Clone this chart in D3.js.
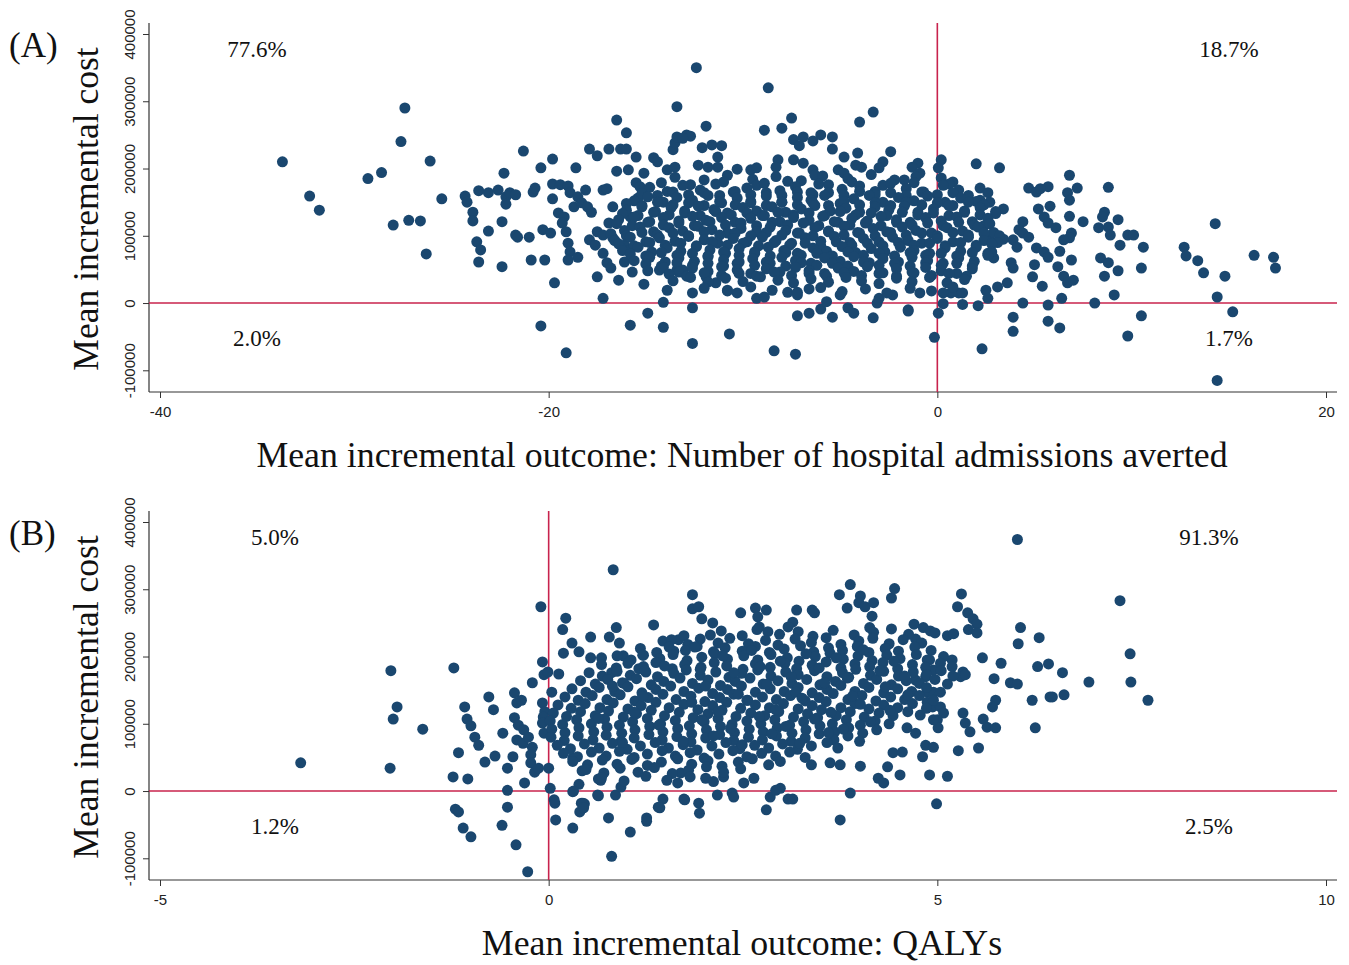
<!DOCTYPE html>
<html>
<head>
<meta charset="utf-8">
<script src="https://cdn.jsdelivr.net/npm/d3@7"></script>
<style>
  body { margin: 0; background: #fff; }
  text { font-family: "Liberation Serif", "Times New Roman", serif; }
  .tick text { font-family: "Liberation Sans", Arial, sans-serif; font-size: 15px; fill: #222; }
  .tick line { stroke: #333; }
</style>
</head>
<body>
<svg id="chart" width="1349" height="965"></svg>
<script>
// ticks
const ticksA = [-40, -20, 0, 20];
const ticksB = [-5, 0, 5, 10];
const costTicks = [-100000, 0, 100000, 200000, 300000, 400000];

// quadrant shares
const quadA = ["77.6%", "18.7%", "2.0%", "1.7%"];
const quadB = ["5.0%", "91.3%", "1.2%", "2.5%"];

// panel A: [hospital admissions averted, incremental cost in thousands]
const pointsA = [
  [-33.7,210],[-32.3,159],[-31.8,138],[-29.3,185],[-28.6,194],[-27.4,290],[-27.6,240],[-26.1,211],[-28.0,116],[-27.2,123],[-26.6,122],[-26.3,73],[-25.5,155],
  [-24.3,159],[-24.2,150],[-23.9,135],[-23.9,122],[-23.7,91],[-23.5,79],[-23.6,61],[-23.6,167],[-23.1,164],[-22.6,168],[-22.2,158],[-22.0,164],[-21.7,161],[-22.2,147],[-22.3,193],[-23.1,107],[-22.4,121],[-22.4,54],[-21.3,226],[-21.7,101],[-21.6,98],[-21.0,98],[-20.9,64],[-20.8,165],[-20.7,171],[-20.4,201],[-20.3,109],[-19.9,104],[-20.2,64],[-19.8,214],[-19.8,177],[-19.4,176],[-19.0,174],[-19.8,155],[-19.7,30],[-19.5,134],[-19.2,128],[-19.3,119],[-19.1,106],[-19.0,89],[-18.9,76],[-18.5,68],[-19.0,64],[-18.9,164],[-18.5,158],[-18.7,143],[-18.6,201],[-18.3,149],[-18.0,143],[-17.8,135],[-18.1,168],[-17.9,229],[-17.5,219],[-17.9,94],[-17.6,86],[-17.5,106],[-17.2,101],[-16.7,97],[-17.5,39],[-17.2,168],[-17.0,170],[-16.9,229],[-16.9,119],[-17.2,74],[-17.0,60],[-16.8,52],[-17.2,7],[-16.7,143],[-16.5,196],[-16.5,272],[-16.4,34],[-16.3,229],[-16.0,229],[-16.0,253],[-15.9,198],[-16.1,86],[-15.8,79],[-16.1,61],[-15.7,46],[-15.8,-33],[-15.5,217],[-15.5,179],[-15.3,173],[-15.4,156],[-15.8,128],[-15.1,193],[-15.1,28],[-14.9,-15],[-14.6,216],[-14.4,210],[-14.3,49],[-13.9,19],[-14.1,1],[-14.1,-36],[-13.9,198],[-13.5,202],[-13.6,228],[-13.5,238],[-13.4,247],[-12.9,250],[-13.4,292],[-13.4,49],[-13.1,49],[-19.1,-74],[-20.4,-34],
  [-12.4,350],[-8.7,320],[-3.3,284],[-4.0,269],[-7.5,275],[-8.0,260],[-8.9,257],[-11.9,263],[-12.7,248],[-13.1,245],[-12.1,231],[-11.6,235],[-11.1,234],[-11.3,217],[-11.3,202],[-12.3,205],[-11.8,202],[-10.3,199],[-9.6,198],[-9.3,201],[-7.4,243],[-6.9,247],[-6.4,241],[-6.0,250],[-5.4,247],[-7.1,234],[-7.4,213],[-6.9,208],[-8.2,213],[-8.3,202],[-5.4,229],[-4.8,217],[-4.1,223],[-2.4,225],[-2.8,210],[-3.0,201],[-1.0,208],[-1.3,202],[-0.9,193],[0.2,213],[0.05,201],[-4.2,205],[-3.9,202],[-5.1,198],[-4.8,193],[-6.4,198],[-6.3,190],
  [-12.6,-60],[-10.7,-46],[-8.4,-71],[-7.3,-76],[-12.6,-7],[-7.2,-19],[-6.6,-15],[-6.0,-9],[-5.4,-21],[-4.6,-7],[-4.3,-15],[-3.3,-22],[-1.5,-12],[-0.15,-51],
  [-9.3,7],[-8.9,9],[-7.7,16],[-7.2,12],[-6.6,21],[-5.7,2],[-5.0,12],[-3.0,7],[-2.3,12],[-0.9,15],[-3.1,0],[-12.6,15],[-11.9,39],[-11.4,30],[-10.8,19],[-10.3,15],[-13.1,46],
  [2.0,207],[3.2,201],[-1.7,183],[0.8,180],[2.2,171],[2.6,164],[2.2,153],[2.7,150],[4.7,171],[5.1,165],[5.7,173],[5.3,170],[6.8,190],[7.2,171],[6.7,164],[6.8,153],[8.8,172],[5.8,144],[5.2,140],[5.5,128],[5.7,119],[6.1,112],[6.8,129],[7.5,121],[3.4,140],[8.6,135],[8.5,128],[9.3,124],[8.3,112],[8.8,113],[8.9,101],[9.8,101],[10.1,101],[9.4,86],[10.6,83],[14.3,118],[12.7,83],[12.8,70],[13.4,63],[13.7,45],[14.8,40],[16.3,71],[17.3,68],[17.4,52],[14.4,9],[15.2,-13],[14.4,-115],[9.8,-49],[10.5,-19],[10.5,52],[9.3,48],[9.1,12],[8.1,0],[8.4,67],[8.8,60],[8.6,40],[6.9,64],[6.4,7],[6.3,-37],[5.7,-27],[5.7,-3],[4.4,0],[3.9,-21],[3.9,-42],[2.3,-68],[2.1,-4],[1.3,-2],[1.1,15],[1.3,15],[0.7,15],[0.3,15],[0.3,-1],[0.05,-15],[-1.5,-10],[2.5,19],[2.6,7],[3.1,24],[3.6,30],[4.9,39],[5.4,25],[5.0,57],[5.1,82],[5.5,76],[5.7,68],[6.2,54],[6.5,40],[6.7,30],[7.0,34],[6.3,77],[6.9,104],[6.8,97],[6.5,94],[4.4,121],[4.2,109],[3.9,94],[4.1,83],[4.4,104],[4.7,98],[3.8,60],[3.9,52],[3.4,95],[2.4,115],[2.5,101],[2.7,94],[2.6,74],[2.9,67],
  [-13.5,187],[-12.0,183],[-10.8,190],[-9.5,184],[-8.3,188],[-7.0,182],[-5.9,189],[-4.6,185],[-3.4,191],[-2.2,183],[-1.1,188],[0.2,186],
  [-14.2,179],[-12.7,176],[-11.0,180],[-9.3,175],[-7.7,181],[-6.1,177],[-4.4,180],[-2.8,175],[-1.2,179],[0.6,177],
  [-14.8,172],[-13.9,166],[-13.1,175],[-12.2,168],[-11.4,177],[-10.5,165],[-9.8,171],[-8.9,178],[-8.1,167],[-7.3,173],[-6.5,164],[-5.6,176],[-4.9,169],[-4.0,174],[-3.2,166],[-2.4,178],[-1.6,170],[-0.7,165],[0.3,175],[1.1,168],
  [-15.2,163],[-14.4,160],[-13.6,165],[-12.8,161],[-12.0,164],[-11.2,160],[-10.4,166],[-9.6,161],[-8.8,164],[-8.0,160],[-7.2,165],[-6.4,161],[-5.6,164],[-4.8,160],[-4.0,166],[-3.2,161],[-2.4,164],[-1.6,160],[-0.8,165],[0.0,161],[0.8,164],[1.6,160],
  [-15.6,152],[-14.9,158],[-14.1,150],[-13.4,157],[-12.6,153],[-11.8,160],[-11.1,149],[-10.3,156],[-9.6,151],[-8.8,159],[-8.0,150],[-7.2,157],[-6.5,153],[-5.8,160],[-5.0,148],[-4.3,155],[-3.5,160],[-2.8,150],[-2.0,157],[-1.2,152],[-0.5,159],[0.4,150],[1.2,156],[2.0,151],
  [-16.0,148],[-15.2,145],[-14.4,150],[-13.6,146],[-12.8,149],[-12.0,145],[-11.2,151],[-10.4,146],[-9.6,149],[-8.8,145],[-8.0,150],[-7.2,146],[-6.4,149],[-5.6,145],[-4.8,151],[-4.0,146],[-3.2,149],[-2.4,145],[-1.6,150],[-0.8,146],[0.0,149],[0.8,145],[1.6,150],[2.4,146],
  [-16.0,138],[-15.2,143],[-14.5,136],[-13.7,142],[-13.0,137],[-12.3,144],[-11.5,139],[-10.8,134],[-10.0,142],[-9.3,137],[-8.5,143],[-7.8,135],[-7.0,140],[-6.3,145],[-5.5,137],[-4.7,141],[-4.0,135],[-3.2,143],[-2.5,138],[-1.7,144],[-1.0,135],[-0.2,140],[0.6,145],[1.4,137],[2.2,142],[3.0,136],
  [-16.2,133],[-15.4,130],[-14.6,135],[-13.8,131],[-13.0,134],[-12.2,130],[-11.4,136],[-10.6,131],[-9.8,134],[-9.0,130],[-8.2,135],[-7.4,131],[-6.6,134],[-5.8,130],[-5.0,136],[-4.2,131],[-3.4,134],[-2.6,130],[-1.8,135],[-1.0,131],[-0.2,134],[0.6,130],[1.4,135],[2.2,131],[3.0,133],
  [-16.4,124],[-15.6,128],[-14.8,121],[-14.1,127],[-13.3,122],[-12.6,129],[-11.9,123],[-11.1,127],[-10.4,120],[-9.6,126],[-8.9,130],[-8.1,121],[-7.4,127],[-6.6,123],[-5.9,129],[-5.1,120],[-4.4,126],[-3.6,122],[-2.9,129],[-2.1,124],[-1.4,120],[-0.6,127],[0.2,122],[1.0,128],[1.8,121],[2.6,126],
  [-16.5,118],[-15.7,115],[-14.9,120],[-14.1,116],[-13.3,119],[-12.5,115],[-11.7,121],[-10.9,116],[-10.1,119],[-9.3,115],[-8.5,120],[-7.7,116],[-6.9,119],[-6.1,115],[-5.3,121],[-4.5,116],[-3.7,119],[-2.9,115],[-2.1,120],[-1.3,116],[-0.5,119],[0.3,115],[1.1,120],[1.9,116],[2.7,118],
  [-16.1,108],[-15.3,113],[-14.6,106],[-13.8,112],[-13.1,107],[-12.3,114],[-11.6,109],[-10.8,104],[-10.1,111],[-9.3,106],[-8.6,113],[-7.8,108],[-7.1,104],[-6.3,112],[-5.6,107],[-4.8,114],[-4.1,105],[-3.3,111],[-2.6,106],[-1.8,113],[-1.1,108],[-0.3,104],[0.5,112],[1.3,107],[2.1,113],[2.9,105],
  [-16.8,103],[-16.0,100],[-15.2,105],[-14.4,101],[-13.6,104],[-12.8,100],[-12.0,106],[-11.2,101],[-10.4,104],[-9.6,100],[-8.8,105],[-8.0,101],[-7.2,104],[-6.4,100],[-5.6,106],[-4.8,101],[-4.0,104],[-3.2,100],[-2.4,105],[-1.6,101],[-0.8,104],[0.0,100],[0.8,105],[1.6,101],[2.4,104],[3.2,100],
  [-16.6,93],[-15.8,98],[-15.0,91],[-14.3,97],[-13.5,92],[-12.8,99],[-12.0,94],[-11.3,89],[-10.5,96],[-9.8,91],[-9.0,98],[-8.3,93],[-7.5,89],[-6.8,97],[-6.0,92],[-5.3,99],[-4.5,90],[-3.8,96],[-3.0,91],[-2.3,98],[-1.5,93],[-0.8,89],[0.0,96],[0.8,91],[1.6,98],[2.4,93],[3.1,90],
  [-16.4,88],[-15.6,85],[-14.8,90],[-14.0,86],[-13.2,89],[-12.4,85],[-11.6,91],[-10.8,86],[-10.0,89],[-9.2,85],[-8.4,90],[-7.6,86],[-6.8,89],[-6.0,85],[-5.2,91],[-4.4,86],[-3.6,89],[-2.8,85],[-2.0,90],[-1.2,86],[-0.4,89],[0.4,85],[1.2,90],[2.0,86],[2.8,88],
  [-16.2,78],[-15.4,83],[-14.7,76],[-13.9,82],[-13.2,77],[-12.4,84],[-11.7,79],[-10.9,74],[-10.2,81],[-9.4,76],[-8.7,83],[-7.9,78],[-7.2,74],[-6.4,82],[-5.7,77],[-4.9,84],[-4.2,75],[-3.4,81],[-2.7,76],[-1.9,83],[-1.2,78],[-0.4,74],[0.4,82],[1.2,77],[2.0,83],[2.8,76],
  [-15.8,73],[-15.0,70],[-14.2,75],[-13.4,71],[-12.6,74],[-11.8,70],[-11.0,76],[-10.2,71],[-9.4,74],[-8.6,70],[-7.8,75],[-7.0,71],[-6.2,74],[-5.4,70],[-4.6,76],[-3.8,71],[-3.0,74],[-2.2,70],[-1.4,75],[-0.6,71],[0.2,74],[1.0,70],[1.8,75],[2.6,71],
  [-15.6,63],[-14.8,68],[-14.0,61],[-13.3,67],[-12.5,62],[-11.8,69],[-11.0,64],[-10.3,59],[-9.5,66],[-8.8,61],[-8.0,68],[-7.3,63],[-6.5,59],[-5.8,67],[-5.0,62],[-4.3,69],[-3.5,60],[-2.8,66],[-2.0,61],[-1.3,68],[-0.5,63],[0.3,59],[1.1,67],[1.9,62],
  [-15.0,58],[-14.2,55],[-13.4,60],[-12.6,56],[-11.8,59],[-11.0,55],[-10.2,61],[-9.4,56],[-8.6,59],[-7.8,55],[-7.0,60],[-6.2,56],[-5.4,59],[-4.6,55],[-3.8,61],[-3.0,56],[-2.2,59],[-1.4,55],[-0.6,60],[0.2,56],[1.0,59],[1.8,55],
  [-14.9,48],[-14.1,53],[-13.3,46],[-12.6,52],[-11.8,47],[-11.1,54],[-10.3,49],[-9.6,44],[-8.8,51],[-8.1,46],[-7.3,53],[-6.6,48],[-5.8,44],[-5.1,52],[-4.3,47],[-3.6,54],[-2.8,45],[-2.1,51],[-1.3,46],[-0.6,53],[0.2,48],[1.0,44],[1.8,51],
  [-13.8,43],[-12.9,40],[-12.0,45],[-11.1,41],[-10.2,44],[-9.3,40],[-8.4,46],[-7.5,41],[-6.6,44],[-5.7,40],[-4.8,45],[-3.9,41],[-3.0,44],[-2.1,40],[-1.2,45],[-0.3,41],[0.6,44],[1.5,40],
  [-13.6,33],[-12.7,38],[-11.8,31],[-10.9,37],[-10.0,32],[-9.1,39],[-8.2,34],[-7.4,30],[-6.5,36],[-5.6,31],[-4.7,38],[-3.9,33],[-3.0,29],[-2.1,37],[-1.3,32],[-0.4,38],[0.5,30],[1.4,35],
  [-12.0,22],[-10.8,18],[-9.6,24],[-8.5,19],[-7.2,16],[-6.0,23],[-4.9,17],[-3.7,21],[-2.6,15],[-1.4,22],[-0.3,18],[0.8,24]
];

// panel B: [QALYs gained, incremental cost in thousands]
const pointsB = [
  [-3.19,42],[-2.03,179],[-1.95,125],[-2.0,107],[-2.04,34],[-1.62,92],[-1.22,183],[-1.23,21],[-1.04,18],[-1.16,57],[-1.08,125],[-1.05,107],[-1.0,97],[-0.95,80],[-0.9,68],[-0.77,140],[-0.71,121],[-1.2,-27],[-1.16,-31],[-1.1,-55],[-1.0,-68],[-0.6,-51],[-0.53,-24],[-0.53,1],[-0.42,-80],[-0.27,-120],[-0.82,43],[-0.69,52],[-0.59,86],[-0.53,34],[-0.46,51],[-0.44,146],[-0.41,131],[-0.35,135],
  [-0.44,109],[-0.39,98],[-0.32,91],[-0.41,76],[-0.33,71],[-0.26,80],[-0.21,65],[-0.23,54],[-0.31,12],[-0.23,42],[-0.18,28],[-0.13,34],[-0.21,161],[-0.1,274],[-0.08,192],[-0.06,173],[-0.01,177],[-0.08,131],[-0.05,118],[-0.07,110],[-0.08,101],[-0.06,86],[0,34],[0.02,4],[0.07,-13],[0.08,-18],[0.09,-43],[0.31,-55],[0.04,147],[0.13,174],[0.22,257],[0.18,240],[0.30,220],[0.19,205],[0.39,207],[0.54,229],[0.68,198],[0.54,198],[0.81,176],[0.78,229],[0.87,243],[0.83,329],[0.64,18],[0.63,-6],[0.77,-40],[0.81,-97],[0.31,-1],[0.42,-18],[0.46,-19],[0.40,-31],[0.39,10],[0.31,49],
  [1.85,292],[1.85,271],[1.93,274],[1.97,256],[2.11,250],[2.08,232],[2.47,265],[2.66,272],[2.80,269],[2.69,259],[2.71,244],[2.82,237],[3.19,269],[3.14,251],[3.08,244],[0.91,220],[0.96,201],[1.35,247],[1.47,223],[1.67,225],[1.74,231],[1.61,208],[0.95,161],[1.16,182],[1.25,177],[1.22,202],
  [0.32,0],[0.43,30],[0.44,-18],[0.45,-25],[0.64,-7],[0.67,16],[0.86,-6],[0.93,6],[1.41,-24],[1.47,-12],[1.26,-40],[1.74,-12],[1.93,-18],[1.94,-33],[2.17,-6],[2.36,-3],[2.38,-9],[2.85,-9],[2.98,4],[2.92,1],[2.80,-28],[3.08,-12],[1.66,12],[1.70,27],[2.02,19],[2.25,21],[2.51,12],[2.64,19],
  [3.88,307],[3.74,292],[4.01,290],[3.99,280],[4.07,274],[4.18,280],[4.45,301],[4.41,287],[3.84,272],[4.16,260],[4.13,243],[3.39,269],[3.42,265],[5.31,293],[5.26,274],[5.39,265],[5.46,256],[5.51,248],[5.40,240],[5.51,235],[6.07,243],[6.04,219],[6.31,228],[4.70,248],[4.72,226],[4.82,243],[4.91,238],[4.97,235],[5.13,231],[5.21,234],[5.58,198],[5.82,190],[6.29,185],[6.43,189],[5.73,167],[5.94,161],[6.03,159],[5.75,135],[5.71,125],[6.22,135],[6.45,140],[6.26,94],[5.59,107],[5.64,95],[5.75,94],[5.53,64],[5.27,60],[5.42,88],[5.36,101],[5.33,116],[4.90,24],[5.13,22],[4.52,24],[3.88,-3],[4.99,-19],[3.75,-43],[3.14,-12],[4.81,51],[4.85,68],[4.95,65],[4.43,57],[4.55,58],[4.24,19],[4.31,12],[4.36,36],[4.01,37],[3.38,39],[3.62,42],[3.75,39],[4.61,94],[4.72,86],[4.87,195],[4.95,180],[4.85,170],[4.72,165],[5.19,195],[5.33,177],[5.30,170],[5.36,173],[4.87,147],[4.95,147],[4.87,132],[4.94,125],[5.04,125],[5.08,116],[5.0,106],[5.01,94],[4.78,113],[4.95,106],
  [6.03,374],[7.35,283],[7.48,204],[7.49,162],[7.71,135],[6.95,162],[6.61,176],[6.48,140],[6.63,143],[1.05,-61],[1.26,-45],[1.43,-25],[1.75,-13],
  [2.22,238],[2.49,231],[2.68,240],[2.97,233],[3.21,237],[3.40,230],[3.66,239],[3.93,232],[4.18,236],[4.41,241],[4.63,233],
  [1.58,225],[1.79,218],[1.95,226],[2.18,220],[2.33,227],[2.57,219],[2.79,224],[2.95,217],[3.17,226],[3.38,221],[3.57,228],[3.76,218],[3.99,223],[4.17,227],[4.38,219],[4.56,225],[4.80,220],
  [1.18,212],[1.39,206],[1.55,214],[1.76,209],[1.91,215],[2.12,207],[2.27,213],[2.49,208],[2.66,215],[2.84,206],[3.03,211],[3.24,216],[3.41,207],[3.60,213],[3.78,209],[3.97,215],[4.12,206],[4.33,212],[4.50,208],[4.71,214],[4.92,209],
  [0.88,201],[1.06,195],[1.21,202],[1.43,197],[1.60,203],[1.78,194],[1.97,199],[2.14,204],[2.30,196],[2.51,201],[2.69,195],[2.86,203],[3.07,198],[3.22,193],[3.43,200],[3.62,205],[3.79,196],[3.98,201],[4.16,194],[4.35,202],[4.52,197],[4.73,203],[4.90,195],[5.08,200],
  [0.68,188],[0.87,183],[1.02,190],[1.22,185],[1.38,191],[1.59,182],[1.75,188],[1.96,184],[2.13,191],[2.29,186],[2.50,181],[2.66,189],[2.85,184],[3.04,190],[3.19,182],[3.39,187],[3.57,192],[3.76,183],[3.94,189],[4.13,185],[4.30,191],[4.49,182],[4.68,188],[4.85,184],[5.04,190],[5.19,185],
  [0.52,176],[0.69,171],[0.88,178],[1.05,172],[1.24,179],[1.40,170],[1.61,175],[1.77,180],[1.95,172],[2.15,177],[2.32,169],[2.48,175],[2.69,180],[2.86,171],[3.05,177],[3.21,173],[3.42,179],[3.58,170],[3.78,176],[3.95,181],[4.14,172],[4.31,178],[4.50,171],[4.69,177],[4.86,173],[5.05,179],[5.20,171],
  [0.41,164],[0.60,159],[0.76,166],[0.97,160],[1.13,167],[1.32,158],[1.48,163],[1.69,168],[1.85,160],[2.05,165],[2.21,157],[2.40,163],[2.59,168],[2.76,159],[2.95,164],[3.13,160],[3.32,166],[3.49,158],[3.69,163],[3.86,169],[4.05,160],[4.22,166],[4.41,158],[4.60,164],[4.77,160],[4.97,166],[5.13,159],
  [0.30,152],[0.48,147],[0.65,154],[0.85,148],[1.02,155],[1.20,146],[1.38,151],[1.57,156],[1.74,148],[1.93,153],[2.11,145],[2.30,151],[2.48,156],[2.66,147],[2.85,152],[3.03,148],[3.21,154],[3.39,146],[3.58,151],[3.76,157],[3.94,148],[4.12,154],[4.31,146],[4.49,152],[4.67,148],[4.86,154],[5.04,147],
  [0.21,140],[0.38,135],[0.56,142],[0.75,136],[0.92,143],[1.11,134],[1.28,139],[1.47,144],[1.64,136],[1.83,141],[2.01,133],[2.20,139],[2.38,144],[2.56,135],[2.75,140],[2.93,136],[3.11,142],[3.30,134],[3.48,139],[3.66,145],[3.85,136],[4.03,142],[4.21,134],[4.40,140],[4.58,136],[4.77,142],[4.95,135],
  [0.12,128],[0.29,123],[0.47,130],[0.66,124],[0.83,131],[1.02,122],[1.19,127],[1.38,132],[1.55,124],[1.74,129],[1.92,121],[2.11,127],[2.29,132],[2.47,123],[2.66,128],[2.84,124],[3.02,130],[3.21,122],[3.39,127],[3.57,133],[3.76,124],[3.94,130],[4.12,122],[4.31,128],[4.49,124],[4.68,130],[4.86,123],
  [0.06,116],[0.23,111],[0.41,118],[0.60,112],[0.77,119],[0.96,110],[1.13,115],[1.32,120],[1.49,112],[1.68,117],[1.86,109],[2.05,115],[2.23,120],[2.41,111],[2.60,116],[2.78,112],[2.96,118],[3.15,110],[3.33,115],[3.51,121],[3.70,112],[3.88,118],[4.06,110],[4.25,116],[4.43,112],[4.62,118],
  [0.02,104],[0.18,99],[0.36,106],[0.55,100],[0.72,107],[0.91,98],[1.08,103],[1.27,108],[1.44,100],[1.63,105],[1.81,97],[2.00,103],[2.18,108],[2.36,99],[2.55,104],[2.73,100],[2.91,106],[3.10,98],[3.28,103],[3.46,109],[3.65,100],[3.83,106],[4.01,98],[4.20,104],[4.38,100],
  [0.04,92],[0.21,87],[0.39,94],[0.58,88],[0.75,95],[0.94,86],[1.11,91],[1.30,96],[1.47,88],[1.66,93],[1.84,85],[2.03,91],[2.21,96],[2.39,87],[2.58,92],[2.76,88],[2.94,94],[3.13,86],[3.31,91],[3.49,97],[3.68,88],[3.86,94],[4.04,86],[4.22,91],
  [0.03,80],[0.20,75],[0.38,82],[0.57,76],[0.74,83],[0.93,74],[1.10,79],[1.29,84],[1.46,76],[1.65,81],[1.83,73],[2.02,79],[2.20,84],[2.38,75],[2.57,80],[2.75,76],[2.93,82],[3.12,74],[3.30,79],[3.48,85],[3.67,76],[3.85,82],[4.00,74],
  [0.11,68],[0.28,63],[0.46,70],[0.65,64],[0.82,71],[1.01,62],[1.18,67],[1.37,72],[1.54,64],[1.73,69],[1.91,61],[2.10,67],[2.28,72],[2.46,63],[2.65,68],[2.83,64],[3.01,70],[3.20,62],[3.38,67],[3.58,72],[3.72,64],
  [0.19,56],[0.37,51],[0.55,58],[0.74,52],[0.91,59],[1.10,50],[1.27,55],[1.46,60],[1.63,52],[1.82,57],[2.00,49],[2.19,55],[2.37,60],[2.55,51],[2.74,56],[2.92,52],[3.10,58],[3.30,50],
  [0.31,44],[0.50,39],[0.69,46],[0.88,40],[1.07,47],[1.27,38],[1.45,43],[1.66,48],[1.84,40],[2.05,45],[2.23,37],[2.44,43],[2.62,48],[2.83,39],[2.98,44],
  [0.48,32],[0.71,27],[0.92,34],[1.15,28],[1.36,35],[1.59,26],[1.80,31],[2.03,36],[2.25,28],[2.47,33],
  [0.68,20],[0.97,15],[1.25,22],[1.52,16],[1.82,21],[2.12,14],
  [1.88,214],[2.24,201],[2.61,209],[2.98,193],[3.31,204],[3.70,198],[4.05,210],[4.44,193],
  [1.95,181],[2.38,176],[2.72,185],[3.12,170],[3.48,183],[3.84,168],[4.26,179],[4.58,171],
  [2.02,156],[2.44,144],[2.81,159],[3.18,147],[3.55,161],[3.91,141],[4.33,155],[4.62,143],
  [1.84,132],[2.18,118],[2.55,135],[2.92,121],[3.26,138],[3.63,117],[4.01,129],[4.39,120],
  [1.97,106],[2.34,93],[2.71,111],[3.05,96],[3.42,107],[3.79,92],[4.14,103],
  [2.12,82],[2.49,69],[2.87,85],[3.23,71],[3.60,87],[1.73,74],[1.42,98],[1.21,141],[1.49,186],[1.10,117],[0.82,156],[0.64,108],[0.95,72]
];

const svg = d3.select("#chart");
const navy = "#1a476f";
const crimson = "#c8234d";

function drawPanel(top, cfg) {
  const left = 149, right = 1337, plotTop = top + 23, plotBottom = top + 392;
  const g = svg.append("g");

  const x = d3.scaleLinear().domain(cfg.xDomain).range([160, 1326]);
  const y = d3.scaleLinear().domain([-100000, 400000]).range([top + 370.3, top + 34]);

  // axis lines
  g.append("line").attr("x1", left).attr("x2", left).attr("y1", plotTop).attr("y2", plotBottom)
    .attr("stroke", "#333").attr("stroke-width", 1.2);
  g.append("line").attr("x1", left).attr("x2", right).attr("y1", plotBottom).attr("y2", plotBottom)
    .attr("stroke", "#333").attr("stroke-width", 1.2);

  const xAxis = g.append("g")
    .attr("transform", `translate(0,${plotBottom})`)
    .call(d3.axisBottom(x).tickValues(cfg.xTicks).tickSize(6).tickPadding(8).tickFormat(d => String(d)));
  xAxis.select(".domain").remove();

  const yAxis = g.append("g")
    .attr("transform", `translate(${left},0)`)
    .call(d3.axisLeft(y).tickValues(costTicks).tickSize(6).tickFormat(d => String(d)));
  yAxis.select(".domain").remove();
  yAxis.selectAll(".tick text")
    .attr("x", null).attr("dy", null)
    .attr("text-anchor", "middle")
    .attr("transform", "translate(-14,0) rotate(-90)");

  // reference lines at zero
  g.append("line").attr("x1", left).attr("x2", right).attr("y1", y(0)).attr("y2", y(0))
    .attr("stroke", crimson).attr("stroke-width", 1.6);
  g.append("line").attr("x1", x(0)).attr("x2", x(0)).attr("y1", plotTop).attr("y2", plotBottom)
    .attr("stroke", crimson).attr("stroke-width", 1.6);

  g.append("g").selectAll("circle")
    .data(cfg.points)
    .enter()
    .append("circle")
    .attr("cx", d => x(d[0]))
    .attr("cy", d => y(d[1] * 1000))
    .attr("r", 5.5)
    .attr("fill", navy);

  // quadrant percentages
  const qx = [cfg.labelX[0], cfg.labelX[1], cfg.labelX[0], cfg.labelX[1]];
  const qy = [top + 57, top + 57, top + 346, top + 346];
  g.selectAll(".quad")
    .data(cfg.quads)
    .enter()
    .append("text")
    .attr("class", "quad")
    .attr("x", (d, i) => qx[i])
    .attr("y", (d, i) => qy[i])
    .attr("text-anchor", "middle")
    .attr("font-size", 23)
    .attr("fill", "#111")
    .text(d => d);

  g.append("text")
    .attr("x", 9).attr("y", top + 57)
    .attr("font-size", 35).attr("fill", "#111")
    .text(cfg.tag);

  g.append("text")
    .attr("transform", `translate(98,${top + 209}) rotate(-90)`)
    .attr("text-anchor", "middle")
    .attr("font-size", 35.5).attr("fill", "#111")
    .text("Mean incremental cost");

  g.append("text")
    .attr("x", 742).attr("y", top + 467)
    .attr("text-anchor", "middle")
    .attr("font-size", 35.8).attr("fill", "#111")
    .text(cfg.xTitle);
}

drawPanel(0, {
  xDomain: [-40, 20], xTicks: ticksA, points: pointsA, quads: quadA,
  labelX: [257, 1229], tag: "(A)",
  xTitle: "Mean incremental outcome: Number of hospital admissions averted"
});
drawPanel(488, {
  xDomain: [-5, 10], xTicks: ticksB, points: pointsB, quads: quadB,
  labelX: [275, 1209], tag: "(B)",
  xTitle: "Mean incremental outcome: QALYs"
});
</script>
</body>
</html>
